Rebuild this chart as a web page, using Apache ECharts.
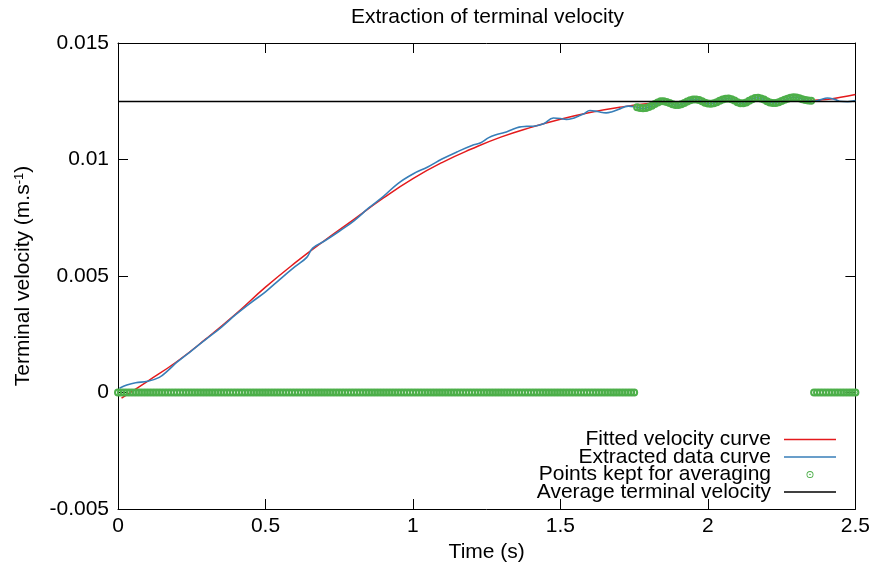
<!DOCTYPE html>
<html>
<head>
<meta charset="utf-8">
<script src="https://cdn.jsdelivr.net/npm/echarts@6/dist/echarts.min.js"></script>
<style>
  html, body { margin: 0; padding: 0; background: #fff; }
  #chart { width: 873px; height: 570px; }
</style>
</head>
<body>
<div id="chart"></div>
<script>
// ---------- Data ----------
const chartTitle = 'Extraction of terminal velocity';
const xTickLabels = ['0', '0.5', '1', '1.5', '2', '2.5'];
const yTickLabels = ['-0.005', '0', '0.005', '0.01', '0.015'];
const seriesNames = ['Fitted velocity curve', 'Extracted data curve', 'Points kept for averaging', 'Average terminal velocity'];

// Fitted velocity curve (red)
const fitTimes = [0.012, 0.1, 0.2, 0.3, 0.4, 0.5, 0.6, 0.7, 0.8, 0.9, 1.0, 1.1, 1.2, 1.3, 1.4, 1.5, 1.6, 1.7, 1.8, 1.9, 2.0, 2.1, 2.2, 2.3, 2.4, 2.45, 2.5];
const fitValues = [-0.00024, 0.00048, 0.00133, 0.00232, 0.00338, 0.00452, 0.00556, 0.00652, 0.00743, 0.00835, 0.00918, 0.00988, 0.01046, 0.01097, 0.01138, 0.01173, 0.01202, 0.01224, 0.0124, 0.01247, 0.0125, 0.01251, 0.01251, 0.01252, 0.01257, 0.01267, 0.01279];

// Extracted data curve (blue), before the averaging window
const dataTimesEarly = [0.005, 0.03, 0.06, 0.1, 0.14, 0.17, 0.2, 0.25, 0.3, 0.35, 0.4, 0.45, 0.5, 0.55, 0.6, 0.64, 0.66, 0.7, 0.75, 0.8, 0.85, 0.9, 0.95, 1.0, 1.05, 1.1, 1.15, 1.2, 1.23, 1.257, 1.284, 1.31, 1.335, 1.36, 1.385, 1.41, 1.443, 1.476, 1.5, 1.52, 1.54, 1.561, 1.58, 1.6, 1.625, 1.655, 1.675, 1.696, 1.73];
const dataValuesEarly = [0.00018, 0.00032, 0.00042, 0.00048, 0.00065, 0.00095, 0.0013, 0.0018, 0.0023, 0.0028, 0.00335, 0.00385, 0.00432, 0.00487, 0.0054, 0.0058, 0.0062, 0.0065, 0.00692, 0.00737, 0.00792, 0.00842, 0.00898, 0.00938, 0.00968, 0.01003, 0.01033, 0.0106, 0.01072, 0.01094, 0.01107, 0.01116, 0.01128, 0.01139, 0.01142, 0.01143, 0.01153, 0.01178, 0.01176, 0.01172, 0.01176, 0.01186, 0.01196, 0.0121, 0.01206, 0.012, 0.01205, 0.01215, 0.01229];

// Averaging window: frames 1.76 s .. 2.35 s every 0.01 s
const frameStep = 0.01;
const keptStart = 1.76;
const keptValues = [0.01224, 0.01221, 0.0122, 0.01221, 0.01225, 0.01231, 0.01238, 0.01245, 0.0125, 0.0125,
  0.01247, 0.01242, 0.01237, 0.01234, 0.01234, 0.01237, 0.01243, 0.01249, 0.01254, 0.01257,
  0.01258, 0.01255, 0.0125, 0.01244, 0.0124, 0.01239, 0.01241, 0.01246, 0.01252, 0.01257,
  0.01261, 0.01262, 0.01259, 0.01253, 0.01246, 0.01241, 0.01241, 0.01245, 0.01252, 0.01259,
  0.01264, 0.01265, 0.01262, 0.01257, 0.0125, 0.01245, 0.01243, 0.01243, 0.01246, 0.01251,
  0.01256, 0.01261, 0.01265, 0.01267, 0.01266, 0.01263, 0.01259, 0.01255, 0.01253, 0.01252];

// Extracted data after the averaging window
const dataTimesLate = [2.36, 2.38, 2.405, 2.43, 2.446, 2.473, 2.5];
const dataValuesLate = [0.0125, 0.01256, 0.01264, 0.01258, 0.0125, 0.01248, 0.01253];

// Average terminal velocity
const averageVelocity = 0.01249;
const xRange = [0, 2.5];
const yRange = [-0.005, 0.015];

// ---------- Build series data ----------
const keptTimes = keptValues.map((_, i) => +(keptStart + i * frameStep).toFixed(3));

const fitData = fitTimes.map((t, i) => [t, fitValues[i]]);
const dataCurve = []
  .concat(dataTimesEarly.map((t, i) => [t, dataValuesEarly[i]]))
  .concat(keptTimes.map((t, i) => [t, keptValues[i]]))
  .concat(dataTimesLate.map((t, i) => [t, dataValuesLate[i]]));

const keptPoints = [];
const nFrames = Math.round((xRange[1] - xRange[0]) / frameStep);
for (let k = 0; k <= nFrames; k++) {
  const t = +(k * frameStep).toFixed(3);
  const idx = Math.round((t - keptStart) / frameStep);
  if (idx >= 0 && idx < keptValues.length) keptPoints.push([t, keptValues[idx]]);
  else keptPoints.push([t, 0]);
}
const averageLine = [[xRange[0], averageVelocity], [xRange[1], averageVelocity]];

// ---------- Chart ----------
const FONT = 'Liberation Sans, Arial, Helvetica, sans-serif';
const FS = 21;
const ringPath = 'path://M7,0 A7,7 0 1,1 7,14 A7,7 0 1,1 7,0 Z M7,3.6 A3.4,3.4 0 1,0 7,10.4 A3.4,3.4 0 1,0 7,3.6 Z M7,5.4 A1.6,1.6 0 1,1 7,8.6 A1.6,1.6 0 1,1 7,5.4 Z';
const legendRing = 'path://M7,0 A7,7 0 1,1 7,14 A7,7 0 1,1 7,0 Z M7,1.8 A5.2,5.2 0 1,0 7,12.2 A5.2,5.2 0 1,0 7,1.8 Z M7,5.4 A1.6,1.6 0 1,1 7,8.6 A1.6,1.6 0 1,1 7,5.4 Z';
const legendLine = 'path://M0,0 L52,0 L52,1.5 L0,1.5 Z';

const axisCommon = {
  type: 'value',
  axisLine: { show: true, onZero: false, lineStyle: { color: '#000', width: 1 } },
  axisTick: { show: true, inside: true, length: 10, lineStyle: { color: '#000', width: 1 } },
  splitLine: { show: false }
};

const chart = echarts.init(document.getElementById('chart'), null, { renderer: 'canvas' });
chart.setOption({
  animation: false,
  backgroundColor: '#fff',
  textStyle: { fontFamily: FONT },
  grid: { left: 118, right: 16, top: 43, bottom: 61 },
  graphic: [{
    type: 'text', x: 487.5, y: 17,
    style: { text: chartTitle, align: 'center', verticalAlign: 'middle', font: FS + 'px ' + FONT, fill: '#000' }
  }],
  xAxis: [
    Object.assign({}, axisCommon, {
      position: 'bottom', min: xRange[0], max: xRange[1], interval: 0.5,
      axisLabel: { color: '#000', fontSize: FS, fontFamily: FONT, margin: 7,
        formatter: v => xTickLabels[Math.round(v / 0.5)] },
      name: 'Time (s)', nameLocation: 'middle', nameGap: 33,
      nameTextStyle: { color: '#000', fontSize: FS, fontFamily: FONT }
    }),
    Object.assign({}, axisCommon, {
      position: 'top', min: xRange[0], max: xRange[1], interval: 0.5,
      axisLabel: { show: false }
    })
  ],
  yAxis: [
    Object.assign({}, axisCommon, {
      position: 'left', min: yRange[0], max: yRange[1], interval: 0.005,
      axisLabel: { color: '#000', fontSize: FS, fontFamily: FONT, margin: 9,
        formatter: v => yTickLabels[Math.round((v - yRange[0]) / 0.005)] },
      name: 'Terminal velocity (m.s{sup|-1})', nameLocation: 'middle', nameGap: 84,
      nameTextStyle: { color: '#000', fontSize: FS, fontFamily: FONT,
        rich: { sup: { fontSize: 13, verticalAlign: 'top', color: '#000', fontFamily: FONT } } }
    }),
    Object.assign({}, axisCommon, {
      position: 'right', min: yRange[0], max: yRange[1], interval: 0.005,
      axisLabel: { show: false }
    })
  ],
  legend: {
    orient: 'vertical', right: 32, top: 424, align: 'right',
    itemWidth: 52, itemHeight: 7, itemGap: -3.5, symbolKeepAspect: true,
    textStyle: { color: '#000', fontSize: FS, fontFamily: FONT, padding: [0, 8, 0, 0] },
    data: [
      { name: seriesNames[0], icon: legendLine },
      { name: seriesNames[1], icon: legendLine },
      { name: seriesNames[2], icon: legendRing },
      { name: seriesNames[3], icon: legendLine }
    ]
  },
  series: [
    {
      name: seriesNames[0], type: 'line', data: fitData, smooth: true, symbol: 'none',
      lineStyle: { color: '#e41a1c', width: 1.5 }, itemStyle: { color: '#e41a1c' }, z: 2
    },
    {
      name: seriesNames[1], type: 'line', data: dataCurve, smooth: 0.4, symbol: 'none',
      lineStyle: { color: '#377eb8', width: 1.6 }, itemStyle: { color: '#377eb8' }, z: 3
    },
    {
      name: seriesNames[2], type: 'scatter', data: keptPoints, symbol: ringPath, symbolSize: 8,
      symbolKeepAspect: true,
      itemStyle: { color: '#4daf4a', opacity: 1 }, z: 4
    },
    {
      name: seriesNames[3], type: 'line', data: averageLine, symbol: 'none',
      lineStyle: { color: '#000', width: 1.3 }, itemStyle: { color: '#000' }, z: 5
    }
  ]
});
</script>
</body>
</html>
